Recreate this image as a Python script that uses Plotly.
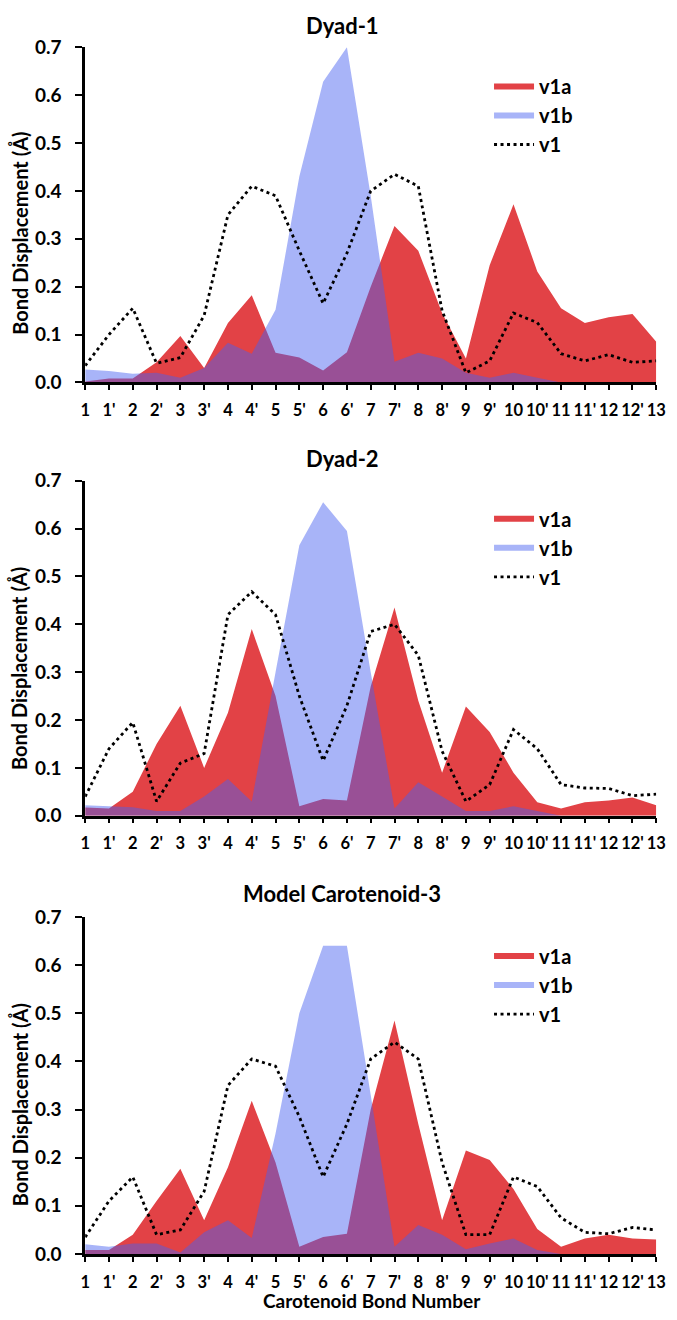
import plotly.graph_objects as go

# ---------------- data ----------------
categories = ["1", "1'", "2", "2'", "3", "3'", "4", "4'", "5", "5'", "6", "6'", "7",
              "7'", "8", "8'", "9", "9'", "10", "10'", "11", "11'", "12", "12'", "13"]

titles = ["Dyad-1", "Dyad-2", "Model Carotenoid-3"]
series_names = ["v1a", "v1b", "v1"]

dyad1_v1a = [0.002, 0.008, 0.008, 0.042, 0.097, 0.030, 0.124, 0.182, 0.062, 0.052, 0.025, 0.063, 0.200,
             0.327, 0.275, 0.145, 0.050, 0.245, 0.372, 0.232, 0.155, 0.124, 0.136, 0.143, 0.085]
dyad1_v1b = [0.027, 0.024, 0.018, 0.020, 0.010, 0.030, 0.083, 0.060, 0.152, 0.430, 0.628, 0.700, 0.390,
             0.043, 0.062, 0.050, 0.020, 0.010, 0.020, 0.010, 0.000, 0.000, 0.000, 0.000, 0.000]
dyad1_v1 = [0.035, 0.100, 0.155, 0.040, 0.052, 0.140, 0.350, 0.410, 0.390, 0.275, 0.165, 0.270, 0.400,
            0.435, 0.410, 0.150, 0.020, 0.045, 0.145, 0.125, 0.060, 0.045, 0.058, 0.042, 0.045]

dyad2_v1a = [0.017, 0.015, 0.050, 0.150, 0.230, 0.100, 0.215, 0.390, 0.250, 0.020, 0.035, 0.032, 0.270,
             0.435, 0.240, 0.090, 0.228, 0.175, 0.090, 0.028, 0.015, 0.028, 0.032, 0.038, 0.022]
dyad2_v1b = [0.022, 0.020, 0.018, 0.010, 0.010, 0.040, 0.077, 0.030, 0.300, 0.565, 0.655, 0.595, 0.300,
             0.015, 0.070, 0.040, 0.010, 0.010, 0.020, 0.010, 0.000, 0.000, 0.000, 0.000, 0.000]
dyad2_v1 = [0.040, 0.140, 0.195, 0.030, 0.110, 0.130, 0.420, 0.468, 0.420, 0.250, 0.115, 0.230, 0.385,
            0.400, 0.335, 0.135, 0.030, 0.065, 0.180, 0.140, 0.065, 0.058, 0.057, 0.042, 0.045]

model3_v1a = [0.008, 0.008, 0.040, 0.110, 0.177, 0.070, 0.180, 0.318, 0.190, 0.015, 0.035, 0.042, 0.300,
              0.485, 0.270, 0.070, 0.215, 0.195, 0.135, 0.052, 0.015, 0.032, 0.040, 0.032, 0.030]
model3_v1b = [0.020, 0.015, 0.022, 0.022, 0.003, 0.045, 0.070, 0.033, 0.250, 0.500, 0.640, 0.640, 0.330,
              0.015, 0.060, 0.040, 0.010, 0.022, 0.032, 0.008, 0.000, 0.000, 0.000, 0.000, 0.000]
model3_v1 = [0.035, 0.110, 0.160, 0.040, 0.050, 0.130, 0.350, 0.405, 0.390, 0.285, 0.160, 0.270, 0.405,
             0.440, 0.405, 0.190, 0.040, 0.040, 0.160, 0.140, 0.075, 0.045, 0.042, 0.055, 0.050]

panels = [
    (dyad1_v1a, dyad1_v1b, dyad1_v1),
    (dyad2_v1a, dyad2_v1b, dyad2_v1),
    (model3_v1a, model3_v1b, model3_v1),
]

# ---------------- styling ----------------
W, H = 677, 1320
FONT = "Lato"
RED = "rgb(226,66,70)"
BLUE = "rgba(70,95,240,0.47)"
X_LEFT, X_RIGHT = 82, 666
PANEL_PX = [(36, 377), (477, 818), (921, 1264)]   # (top of 0.7, bottom 0.0) in pixels
TITLE_Y = [14, 454, 897]
YTITLE_Y = [225, 668, 1112]
LEGEND_TOP = [56, 496, 941]
LEGEND_X = 495

fig = go.Figure()
layout = dict(
    width=W, height=H,
    margin=dict(l=0, r=0, t=0, b=0),
    paper_bgcolor="white", plot_bgcolor="white",
    font=dict(family=FONT, color="black"),
    annotations=[],
)

for i, (a, b, c) in enumerate(panels):
    n = "" if i == 0 else str(i + 1)
    xa, ya, lg = "x" + n, "y" + n, "legend" + n
    fig.add_trace(go.Scatter(x=categories, y=a, mode="none", fill="tozeroy", fillcolor=RED,
                             name=series_names[0], xaxis=xa, yaxis=ya, legend=lg))
    fig.add_trace(go.Scatter(x=categories, y=b, mode="none", fill="tozeroy", fillcolor=BLUE,
                             name=series_names[1], xaxis=xa, yaxis=ya, legend=lg))
    fig.add_trace(go.Scatter(x=categories, y=c, mode="lines",
                             line=dict(color="black", width=2.8, dash="3px,3.5px"),
                             name=series_names[2], xaxis=xa, yaxis=ya, legend=lg))
    top, bot = PANEL_PX[i]
    layout["xaxis" + n] = dict(
        domain=[X_LEFT / W, X_RIGHT / W], anchor=ya, type="category",
        categoryorder="array", categoryarray=categories, range=[0, len(categories) - 1],
        tickmode="linear", dtick=1, tickangle=0,
        showline=True, linecolor="black", linewidth=2.5,
        ticks="outside", ticklen=5, tickwidth=2, tickcolor="black",
        showgrid=False, zeroline=False,
        tickfont=dict(family=FONT, size=16.5, weight="bold"), ticklabelstandoff=6,
    )
    layout["yaxis" + n] = dict(
        domain=[1 - bot / H, 1 - top / H], anchor=xa, range=[0, 0.7],
        tickmode="linear", dtick=0.1, tickformat=".1f",
        showline=True, linecolor="black", linewidth=2.5,
        ticks="outside", ticklen=7, tickwidth=2, tickcolor="black",
        showgrid=False, zeroline=False,
        tickfont=dict(family=FONT, size=19, weight="bold"), ticklabelstandoff=10,
    )
    layout[lg] = dict(
        x=LEGEND_X / W, y=1 - LEGEND_TOP[i] / H, xanchor="left", yanchor="top",
        font=dict(family=FONT, size=20, weight="bold"), itemwidth=40,
        bgcolor="rgba(0,0,0,0)", tracegroupgap=0,
    )
    layout["annotations"].append(dict(
        text=titles[i], xref="paper", yref="paper", x=345 / W, y=1 - TITLE_Y[i] / H,
        xanchor="center", yanchor="middle", showarrow=False,
        font=dict(family=FONT, size=22, weight="bold")))
    layout["annotations"].append(dict(
        text="Bond Displacement (Å)", xref="paper", yref="paper", x=15 / W, y=1 - YTITLE_Y[i] / H,
        xanchor="center", yanchor="middle", showarrow=False, textangle=-90,
        font=dict(family=FONT, size=20, weight="bold")))

layout["annotations"].append(dict(
    text="Carotenoid Bond Number", xref="paper", yref="paper", x=375 / W, y=1 - 1311 / H,
    xanchor="center", yanchor="middle", showarrow=False,
    font=dict(family=FONT, size=19, weight="bold")))

fig.update_layout(**layout)
fig.write_html("out.html", config={"displayModeBar": False},
               post_script="document.body.style.margin='0px';")
